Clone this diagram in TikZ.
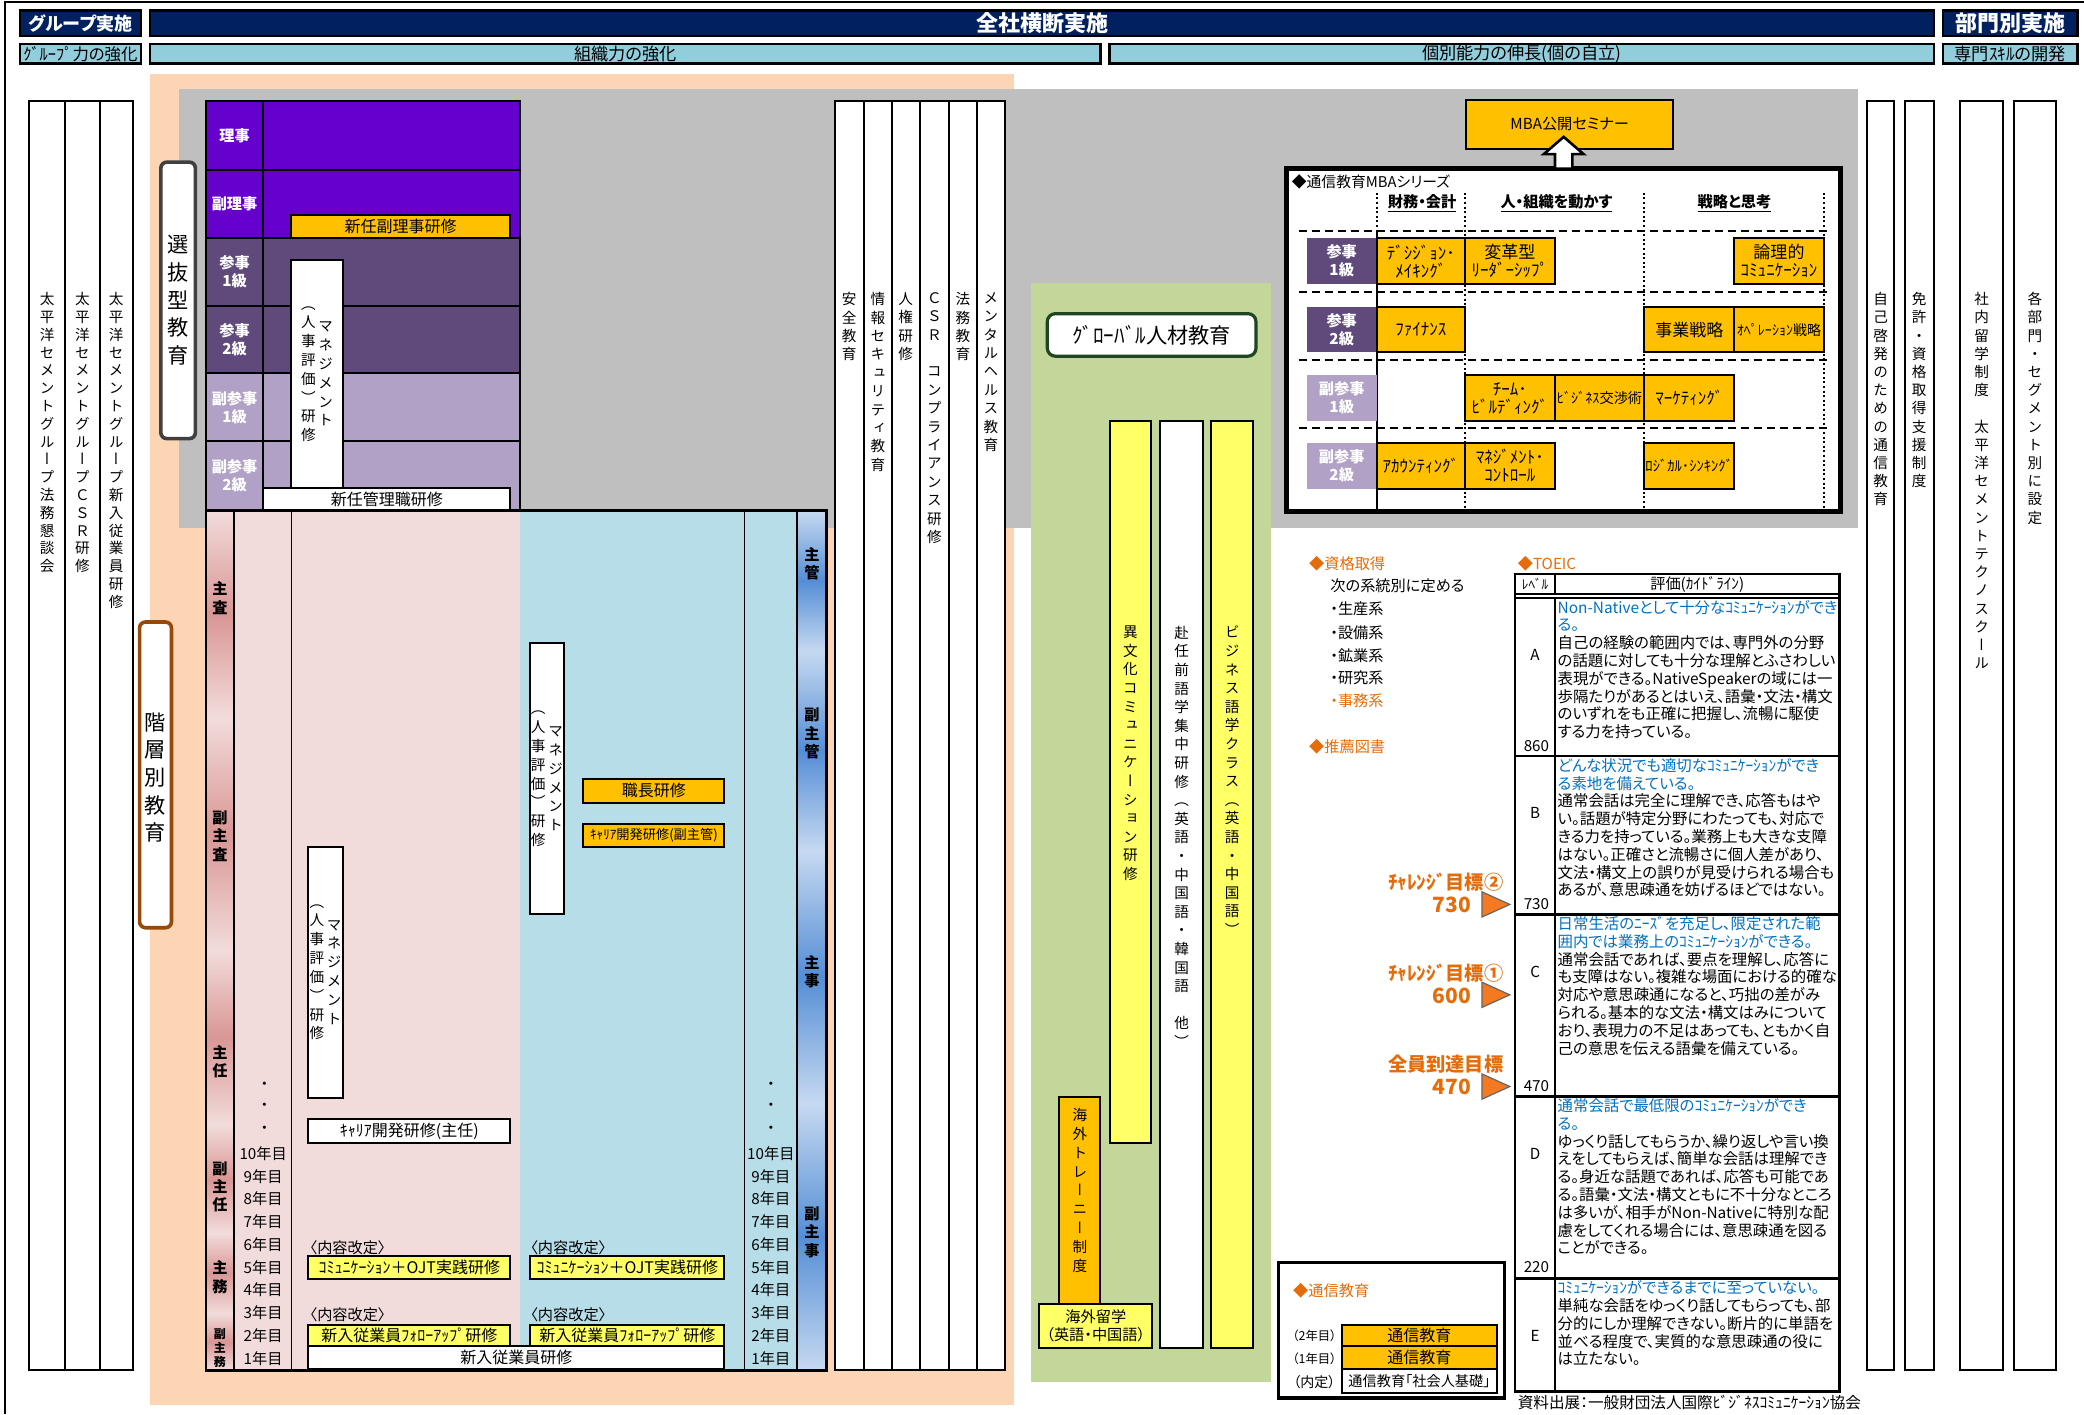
\documentclass[tikz,border=0pt]{standalone}
\usepackage{fontspec}
\setmainfont{Noto Sans CJK JP}[RawFeature=+palt]
\newfontfamily\vfont{Noto Sans CJK JP}[RawFeature=+vert]
\usetikzlibrary{calc}

\definecolor{navy}{HTML}{002060}
\definecolor{hdrblue}{HTML}{92CDDC}
\definecolor{peach}{HTML}{FCD5B4}
\definecolor{greyarea}{HTML}{BFBFBF}
\definecolor{greenarea}{HTML}{C4D79B}
\definecolor{purpA}{HTML}{6600CC}
\definecolor{purpB}{HTML}{604A7B}
\definecolor{purpC}{HTML}{B2A1C7}
\definecolor{amber}{HTML}{FFC000}
\definecolor{lemon}{HTML}{FFFF66}
\definecolor{pinkarea}{HTML}{F2DCDB}
\definecolor{pinkdeep}{HTML}{D99694}
\definecolor{bluearea}{HTML}{B7DEE8}
\definecolor{bluedeep}{HTML}{558ED5}
\definecolor{bluelite}{HTML}{C6D9F1}
\definecolor{txtorange}{HTML}{E46C0A}
\definecolor{txtblue}{HTML}{0070C0}
\definecolor{arrorange}{HTML}{F47920}
\definecolor{framegrey}{HTML}{404040}
\definecolor{framebrown}{HTML}{984807}
\definecolor{framegreen}{HTML}{1E4620}

\newcommand\fsz[2]{\fontsize{#1pt}{#2pt}\selectfont}
\makeatletter
% one character per line, for the vertical labels
\newcommand\tate[2][9.1pt]{\edef\tate@list{#2}\vtop{\baselineskip=#1\relax\lineskiplimit=-\maxdimen\expandafter\tate@go\expandafter{\tate@list}}}
\def\tate@go#1{\@tfor\tch:=#1\do{\hbox to 1em{\hss\tch\hss}}}
\makeatother

\tikzset{
  every node/.style={inner sep=0pt, outer sep=0pt},
  spans/.style n args={4}{at={({(#1+#3)/2},{(#2+#4)/2})}, anchor=center,
    minimum width=(#3-#1)*0.6645pt, minimum height=(#4-#2)*0.6645pt},
  hdr box/.style={draw=black, line width=1.3pt, fill=navy, text=white, font=\fsz{11}{13}\bfseries},
  sub box/.style={draw=black, line width=1.3pt, fill=hdrblue, font=\fsz{8.6}{10}},
  plain col/.style={draw=black, line width=1pt, fill=white},
  vtext/.style={anchor=north, font=\vfont\fsz{7.3}{9}},
  big vtext/.style={anchor=center, font=\vfont\fsz{10.6}{12}},
  post cell/.style={draw=black, line width=1pt},
  post lab/.style={text=white, font=\fsz{7.6}{9}\bfseries, align=center},
  staff lab/.style={anchor=center, font=\vfont\fsz{7.6}{9}\bfseries},
  year lab/.style={font=\fsz{7.6}{9}},
  white box/.style={draw=black, line width=1pt, fill=white, font=\fsz{8}{9.5}, align=center},
  amber box/.style={white box, fill=amber},
  lemon box/.style={white box, fill=lemon},
  note text/.style={anchor=west, font=\fsz{7.6}{9}},
  orange note/.style={note text, text=txtorange},
  goal text/.style={anchor=east, text=txtorange, font=\fsz{9.6}{11}\bfseries},
  goal num/.style={anchor=east, text=txtorange, font=\fsz{10.5}{12}\bfseries},
  goal tri/.style={fill=arrorange, draw=black!60, line width=0.6pt},
  course/.style={draw=black, line width=1pt, fill=amber, align=center, font=\fsz{8.5}{9}},
  mba head/.style={font=\fsz{7.6}{9}\bfseries},
  dotted line/.style={line width=1pt, dash pattern=on 1pt off 1.3pt},
  dash line/.style={line width=0.9pt, dash pattern=on 4pt off 2.5pt},
  tcell/.style={draw=black, line width=1.1pt, font=\fsz{7.2}{9}},
  desc/.style={anchor=north west, align=left, font=\fsz{7.7}{8.9}},
  thick frame/.style={draw=black, fill=white},
  hollow arrow/.style={draw=black, line width=1.3pt, fill=white, line join=miter}
}

\newcommand\mgmtlabel[1]{%
  \node[vtext, anchor=center] (#1L) at ($(#1.center)+(-6.5,0)$) {\tate[9.4pt]{（人事評価）研修}};
  \node[vtext, anchor=center] (#1R) at ($(#1.center)+(6.5,0)$) {\tate[9.4pt]{マネジメント}};}

\begin{document}
\begin{tikzpicture}[x=0.6645pt, y=-0.6645pt]
\useasboundingbox (0,0) rectangle (1568,1064);

% outer frame
\draw[line width=1pt] (3.5,1064) -- (3.5,1.5) -- (1568,1.5);

% header bands
\node[hdr box, spans={15}{8}{106}{27}, font=\fsz{9}{11}\bfseries] (grpImpl) {グループ実施};
\node[hdr box, spans={113}{8}{1455}{27}] (allImpl) {全社横断実施};
\node[hdr box, spans={1462}{8}{1563}{27}] (deptImpl) {部門別実施};
\node[sub box, spans={15}{33}{106}{48}, font=\fsz{8.2}{9}] (grpPower) {ｸﾞﾙｰﾌﾟ力の強化};
\node[sub box, spans={113}{33}{828}{48}] (orgPower) {組織力の強化};
\node[sub box, spans={835}{33}{1455}{48}] (indPower) {個別能力の伸長(個の自立)};
\node[sub box, spans={1462}{33}{1563}{48}] (skillDev) {専門ｽｷﾙの開発};

% background areas
\fill[peach] (113,56) rectangle (763,1057);
\fill[greyarea] (135,67) rectangle (1398,397);
\fill[greenarea] (776,213) rectangle (956,1040);

% group-wide columns
\foreach \xa/\xb/\txt [count=\i] in {22/49/太平洋セメントグループ法務懇談会, 49/75/太平洋セメントグループＣＳＲ研修, 75/100/太平洋セメントグループ新入従業員研修}{
  \node[plain col, spans={\xa}{76}{\xb}{1031}] (grpCol\i) {};
  \node[vtext] (grpTxt\i) at ({(\xa+\xb)/2},220) {\tate[8.9pt]{\txt}};
}

% selection / hierarchy tags
\node[draw=framegrey, line width=1.8pt, rounded corners=3pt, fill=white, spans={121}{122}{147}{330}] (selEdu) {};
\node[big vtext] (selEduTxt) at (selEdu.center) {\tate[13.8pt]{選抜型教育}};
\node[draw=framebrown, line width=1.8pt, rounded corners=3pt, fill=white, spans={105}{468}{129}{698}] (layerEdu) {};
\node[big vtext] (layerEduTxt) at ($(layerEdu.center)+(0,2)$) {\tate[13.8pt]{階層別教育}};

% executive grades
\foreach \ya/\yb/\lab/\clr [count=\i] in {76/128/理事/purpA, 128/179/副理事/purpA, 179/230/参事\\1級/purpB, 230/281/参事\\2級/purpB, 281/332/副参事\\1級/purpC, 332/384/副参事\\2級/purpC}{
  \node[post cell, fill=\clr, spans={155}{\ya}{198}{\yb}] (post\i) {};
  \node[post lab] (postLab\i) at (post\i) {\lab};
  \node[post cell, fill=\clr, spans={198}{\ya}{391}{\yb}] (postRow\i) {};
}
\node[amber box, spans={219}{162}{384}{179}] (newVP) {新任副理事研修};
\node[white box, spans={219}{196}{258}{367}] (mgmtTop) {};
\mgmtlabel{mgmtTop}
\node[white box, spans={198}{367}{384}{384}] (newMgr) {新任管理職研修};

% staff grades
\fill[pinkarea] (155,384) rectangle (391,1031);
\fill[bluearea] (391,384) rectangle (622,1031);
\foreach \ya/\yb in {384/540, 540/715, 715/846, 846/928, 928/988, 988/1031}
  \shade[top color=pinkarea, bottom color=pinkarea, middle color=pinkdeep] (155,\ya) rectangle (176,\yb);
\foreach \ya/\yb in {384/490, 490/640, 640/830, 830/1031}
  \shade[top color=bluelite, bottom color=bluelite, middle color=bluedeep] (600,\ya) rectangle (622,\yb);
\draw[line width=1pt] (176,384) -- (176,1031);
\draw[line width=0.4pt] (219,384) -- (219,1031);
\draw[line width=0.4pt] (560,384) -- (560,1031);
\draw[line width=1pt] (600,384) -- (600,1031);
\draw[line width=1.3pt] (155,384) rectangle (622,1031);

\foreach \y/\txt [count=\i] in {450/主査, 629/副主査, 799/主任, 893/副主任, 961/主務}
  \node[staff lab] (rankL\i) at (165.5,\y) {\tate[9.2pt]{\txt}};
\node[staff lab, font=\vfont\fsz{6}{7}\bfseries] (rankL6) at (165.5,1014) {\tate[7pt]{副主務}};
\foreach \y/\txt [count=\i] in {424/主管, 552/副主管, 731/主事, 927/副主事}
  \node[staff lab] (rankR\i) at (611,\y) {\tate[9.2pt]{\txt}};

\foreach \y [count=\k] in {817,833,850}{
  \node[year lab] (dotL\k) at (199,\y) {・};
  \node[year lab] (dotR\k) at (580,\y) {・};
}
\foreach \n [count=\k from 0] in {10,9,...,1}{
  \node[year lab] (yrL\n) at (198,868+17.1*\k) {{\n}年目};
  \node[year lab] (yrR\n) at (580,868+17.1*\k) {{\n}年目};
}

% pink side
\node[white box, spans={232}{637}{258}{826}] (mgmtPink) {};
\mgmtlabel{mgmtPink}
\node[white box, spans={232}{842}{384}{860}] (careerPink) {ｷｬﾘｱ開発研修(主任)};
\node[note text] (revPinkA) at (233,939) {〈内容改定〉};
\node[lemon box, spans={232}{945}{384}{962}] (ojtPink) {ｺﾐｭﾆｹｰｼｮﾝ＋OJT実践研修};
\node[note text] (revPinkB) at (233,989) {〈内容改定〉};
\node[lemon box, spans={232}{997}{384}{1013}] (followPink) {新入従業員ﾌｫﾛｰｱｯﾌﾟ研修};

% blue side
\node[white box, spans={399}{484}{424}{688}] (mgmtBlue) {};
\mgmtlabel{mgmtBlue}
\node[amber box, spans={439}{586}{545}{604}] (foreman) {職長研修};
\node[amber box, spans={439}{620}{545}{637}, font=\fsz{6.6}{8}] (careerBlue) {ｷｬﾘｱ開発研修(副主管)};
\node[note text] (revBlueA) at (399,939) {〈内容改定〉};
\node[lemon box, spans={399}{945}{545}{962}] (ojtBlue) {ｺﾐｭﾆｹｰｼｮﾝ＋OJT実践研修};
\node[note text] (revBlueB) at (399,989) {〈内容改定〉};
\node[lemon box, spans={399}{997}{545}{1013}] (followBlue) {新入従業員ﾌｫﾛｰｱｯﾌﾟ研修};
\node[white box, spans={232}{1013}{545}{1030}] (newHire) {新入従業員研修};

% company-wide columns
\foreach \xa/\xb/\txt [count=\i] in {628/650/安全教育, 650/671/情報セキュリティ教育, 671/692/人権研修, 692/714/ＣＳＲ　コンプライアンス研修, 714/735/法務教育, 735/756/メンタルヘルス教育}{
  \node[plain col, spans={\xa}{76}{\xb}{1031}] (midCol\i) {};
  \node[vtext] (midTxt\i) at ({(\xa+\xb)/2},220) {\tate[9.2pt]{\txt}};
}

% global talent
\node[draw=framegreen, line width=1.6pt, rounded corners=4pt, fill=white, font=\fsz{10.6}{12}, spans={788}{236}{945}{268}] (globalHd) {ｸﾞﾛｰﾊﾞﾙ人材教育};
\node[lemon box, spans={835}{317}{866}{860}] (interCult) {};
\node[vtext] (interCultTxt) at (850.5,471) {\tate[9.3pt]{異文化コミュニケーション研修}};
\node[white box, spans={873}{317}{905}{1014}] (preLang) {};
\node[vtext] (preLangTxt) at (889,471) {\tate[9.3pt]{赴任前語学集中研修（英語・中国語・韓国語　他）}};
\node[lemon box, spans={911}{317}{943}{1014}] (bizLang) {};
\node[vtext] (bizLangTxt) at (927,471) {\tate[9.3pt]{ビジネス語学クラス（英語・中国語）}};
\node[amber box, spans={797}{825}{828}{981}] (trainee) {};
\node[vtext] (traineeTxt) at (812.5,834) {\tate[9.4pt]{海外トレーニー制度}};
\node[lemon box, spans={782}{981}{867}{1014}, font=\fsz{7.6}{8.6}] (study) {海外留学\\（英語・中国語）};

% MBA series
\node[amber box, spans={1103}{75}{1259}{112}, font=\fsz{7.6}{9}] (mbaSem) {MBA公開セミナー};
\node[thick frame, line width=2.6pt, spans={968}{127}{1385}{385}] (mbaFrame) {};
\coordinate (arrTip) at ($(mbaSem.south)+(-4.5,-9)$);
\coordinate (arrFoot) at (arrTip |- mbaFrame.north);
\draw[hollow arrow] ($(arrFoot)+(-6.5,0)$) -- ($(arrTip)+(-6.5,13)$) -- ($(arrTip)+(-15,13)$) -- (arrTip)
  -- ($(arrTip)+(15,13)$) -- ($(arrTip)+(6.5,13)$) -- ($(arrFoot)+(6.5,0)$) -- cycle;
\node[note text, font=\fsz{7.4}{9}] (mbaTitle) at (972,137) {◆通信教育MBAシリーズ};
\node[mba head] (colFin) at (1070,153) {\underline{財務・会計}};
\node[mba head] (colPeople) at (1171,153) {\underline{人・組織を動かす}};
\node[mba head] (colStrat) at (1305,153) {\underline{戦略と思考}};
\foreach \y in {174,220,271,322}
  \draw[dash line] (977,\y) -- (1376,\y);
\foreach \x in {1102,1237,1372}
  \draw[dotted line] (\x,145) -- (\x,384);
\draw[dotted line] (1036,145) -- (1036,174);
\draw[line width=1pt] (1036,174) -- (1036,385);
\foreach \ya/\yb/\lab/\clr [count=\i] in {179/214/参事\\1級/purpB, 231/265/参事\\2級/purpB, 282/317/副参事\\1級/purpC, 333/368/副参事\\2級/purpC}
  \node[post lab, fill=\clr, spans={983}{\ya}{1036}{\yb}] (mbaPost\i) {\lab};
\node[course, spans={1036}{179}{1102}{214}] (mbaDecision) {ﾃﾞｼｼﾞｮﾝ･\\ﾒｲｷﾝｸﾞ};
\node[course, spans={1102}{179}{1170}{214}] (mbaLeader) {変革型\\ﾘｰﾀﾞｰｼｯﾌﾟ};
\node[course, spans={1305}{179}{1372}{214}] (mbaLogicCom) {論理的\\ｺﾐｭﾆｹｰｼｮﾝ};
\node[course, spans={1036}{231}{1102}{265}] (mbaFinance) {ﾌｧｲﾅﾝｽ};
\node[course, spans={1237}{231}{1305}{265}] (mbaBizStrat) {事業戦略};
\node[course, font=\fsz{7}{8}, spans={1305}{231}{1372}{265}] (mbaOpStrat) {ｵﾍﾟﾚｰｼｮﾝ戦略};
\node[course, spans={1102}{282}{1170}{317}] (mbaTeam) {ﾁｰﾑ･\\ﾋﾞﾙﾃﾞｨﾝｸﾞ};
\node[course, font=\fsz{7.1}{8}, spans={1170}{282}{1237}{317}] (mbaNegot) {ﾋﾞｼﾞﾈｽ交渉術};
\node[course, spans={1237}{282}{1305}{317}] (mbaMarket) {ﾏｰｹﾃｨﾝｸﾞ};
\node[course, spans={1036}{333}{1102}{368}] (mbaAccount) {ｱｶｳﾝﾃｨﾝｸﾞ};
\node[course, spans={1102}{333}{1170}{368}] (mbaMgmtCtl) {ﾏﾈｼﾞﾒﾝﾄ･\\ｺﾝﾄﾛｰﾙ};
\node[course, font=\fsz{7.3}{8}, spans={1237}{333}{1305}{368}] (mbaLogical) {ﾛｼﾞｶﾙ･ｼﾝｷﾝｸﾞ};

% qualifications and targets
\node[orange note] (qualHd) at (985,424) {◆資格取得};
\node[note text] (qualIntro) at (1001,441) {次の系統別に定める};
\foreach \y/\t [count=\i] in {458/・生産系, 476/・設備系, 493/・鉱業系, 510/・研究系}
  \node[note text] (qual\i) at (1001,\y) {\t};
\node[orange note] (qual5) at (1001,527) {・事務系};
\node[orange note] (bookHd) at (985,562) {◆推薦図書};
\foreach \y/\lab/\num [count=\i] in {664/ﾁｬﾚﾝｼﾞ目標②/730, 732/ﾁｬﾚﾝｼﾞ目標①/600, 801/全員到達目標/470}{
  \node[goal text] (goal\i) at (1131,\y) {\lab};
  \node[goal num] (goalNum\i) at (1107,\y+17) {\num};
  \draw[goal tri] (1115,\y+7) -- (1136,\y+16.5) -- (1115,\y+26) -- cycle;
}

% TOEIC table
\node[orange note] (toeicHd) at (1142,424) {◆TOEIC};
\node[tcell, spans={1140}{432}{1170}{447}, font=\fsz{6.6}{8}] (hdLevel) {ﾚﾍﾞﾙ};
\node[tcell, spans={1170}{432}{1384}{447}, font=\fsz{7.6}{9}] (hdEval) {評価(ｶｲﾄﾞﾗｲﾝ)};
\draw[line width=1.1pt] (1140,447) -- (1140,450) (1384,447) -- (1384,450);
\foreach \ya/\yb/\lv in {450/569/A, 569/688/B, 688/825/C, 825/962/D, 962/1047/E}{
  \node[tcell, spans={1140}{\ya}{1170}{\yb}] (lv\lv) {};
  \node[tcell, spans={1170}{\ya}{1384}{\yb}] (ev\lv) {};
  \node[font=\fsz{7.6}{9}] (lvLab\lv) at (1155,\ya+43) {\lv};
}
\foreach \y/\s in {561/860, 680/730, 817/470, 953/220}
  \node[font=\fsz{7.6}{9}] (score\s) at (1156,\y) {\s};
\node[desc] (descA) at (1172,451.5) {\textcolor{txtblue}{Non-Nativeとして十分なｺﾐｭﾆｹｰｼｮﾝができ}\\\textcolor{txtblue}{る。}\\自己の経験の範囲内では、専門外の分野\\の話題に対しても十分な理解とふさわしい\\表現ができる。NativeSpeakerの域には一\\歩隔たりがあるとはいえ、語彙・文法・構文\\のいずれをも正確に把握し、流暢に駆使\\する力を持っている。};
\node[desc] (descB) at (1172,570.5) {\textcolor{txtblue}{どんな状況でも適切なｺﾐｭﾆｹｰｼｮﾝができ}\\\textcolor{txtblue}{る素地を備えている。}\\通常会話は完全に理解でき、応答もはや\\い。話題が特定分野にわたっても、対応で\\きる力を持っている。業務上も大きな支障\\はない。正確さと流暢さに個人差があり、\\文法・構文上の誤りが見受けられる場合も\\あるが、意思疎通を妨げるほどではない。};
\node[desc] (descC) at (1172,689.5) {\textcolor{txtblue}{日常生活のﾆｰｽﾞを充足し、限定された範}\\\textcolor{txtblue}{囲内では業務上のｺﾐｭﾆｹｰｼｮﾝができる。}\\通常会話であれば、要点を理解し、応答に\\も支障はない。複雑な場面における的確な\\対応や意思疎通になると、巧拙の差がみ\\られる。基本的な文法・構文はみについて\\おり、表現力の不足はあっても、ともかく自\\己の意思を伝える語彙を備えている。};
\node[desc] (descD) at (1172,826.5) {\textcolor{txtblue}{通常会話で最低限のｺﾐｭﾆｹｰｼｮﾝができ}\\\textcolor{txtblue}{る。}\\ゆっくり話してもらうか、繰り返しや言い換\\えをしてもらえば、簡単な会話は理解でき\\る。身近な話題であれば、応答も可能であ\\る。語彙・文法・構文ともに不十分なところ\\は多いが、相手がNon-Nativeに特別な配\\慮をしてくれる場合には、意思疎通を図る\\ことができる。};
\node[desc] (descE) at (1172,963.5) {\textcolor{txtblue}{ｺﾐｭﾆｹｰｼｮﾝができるまでに至っていない。}\\単純な会話をゆっくり話してもらっても、部\\分的にしか理解できない。断片的に単語を\\並べる程度で、実質的な意思疎通の役に\\は立たない。};
\node[note text, font=\fsz{7.8}{9}] (source) at (1142,1055.5) {資料出展：一般財団法人国際ﾋﾞｼﾞﾈｽｺﾐｭﾆｹｰｼｮﾝ協会};

% correspondence course
\node[thick frame, line width=1.8pt, spans={962}{950}{1132}{1052}] (corrFrame) {};
\node[orange note] (corrHd) at (973,971) {◆通信教育};
\node[amber box, spans={1010}{997}{1126}{1013}] (corr2) {通信教育};
\node[amber box, spans={1010}{1013}{1126}{1030}] (corr1) {通信教育};
\node[white box, spans={1010}{1030}{1126}{1048}, font=\fsz{7.1}{8.5}] (corr0) {通信教育「社会人基礎」};
\node[font=\fsz{6.2}{8}] (corr2Lab) at (989,1005) {（2年目）};
\node[font=\fsz{6.2}{8}] (corr1Lab) at (989,1022) {（1年目）};
\node[font=\fsz{7}{9}] (corr0Lab) at (989,1040) {（内定）};

% individual and department columns
\foreach \xa/\xb/\txt [count=\i] in {1405/1425/自己啓発のための通信教育, 1433/1455/免許・資格取得支援制度, 1475/1507/社内留学制度　太平洋セメントテクノスクール, 1515/1547/各部門・セグメント別に設定}{
  \node[plain col, spans={\xa}{76}{\xb}{1031}] (rightCol\i) {};
  \node[vtext] (rightTxt\i) at ({(\xa+\xb)/2},220) {\tate[9.1pt]{\txt}};
}
\end{tikzpicture}
\end{document}
